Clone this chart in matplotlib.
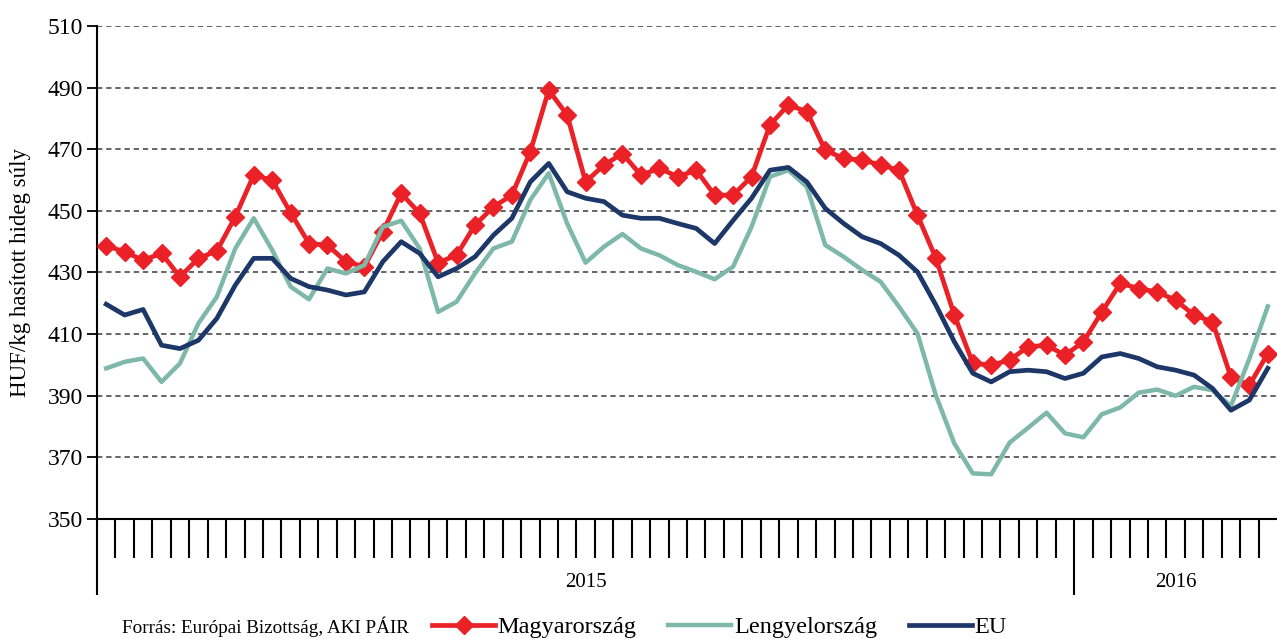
import matplotlib
matplotlib.use("Agg")
import matplotlib.pyplot as plt
import matplotlib.transforms as mtransforms
import numpy as np

plt.rcParams['font.family'] = ['Liberation Serif', 'DejaVu Serif']

# heti adatok: 2015 (53 het) + 2016 (11 het)
years = ["2015", "2016"]
weeks_per_year = [53, 11]

magyarorszag = [438.7, 436.7, 434.0, 436.2, 428.6, 434.6, 437.0, 448.1, 461.6, 460.0,
	449.4, 439.4, 438.9, 433.5, 431.9, 443.2, 455.7, 449.2, 433.2, 435.6,
	445.4, 451.3, 455.1, 469.2, 489.2, 481.1, 459.4, 464.9, 468.6, 461.6,
	463.8, 461.1, 463.2, 455.1, 455.1, 461.1, 477.9, 484.4, 482.2, 469.7,
	467.0, 466.5, 464.9, 463.2, 448.6, 434.6, 416.2, 400.6, 399.9, 401.6,
	405.9, 406.4, 403.2, 407.5, 417.2, 426.5, 424.8, 423.7, 421.0, 416.2,
	414.0, 396.1, 393.4, 403.7]

lengyelorszag = [398.9, 401.0, 402.1, 394.5, 400.5, 413.5, 422.1, 437.8, 447.6, 437.3,
	425.4, 421.3, 431.3, 429.7, 432.4, 444.8, 446.8, 437.8, 417.2, 420.5,
	429.7, 437.8, 440.0, 453.5, 462.2, 445.9, 433.2, 438.4, 442.5, 437.8,
	435.6, 432.4, 430.2, 427.8, 431.9, 444.8, 461.1, 463.2, 457.8, 438.9,
	435.1, 430.8, 427.0, 418.9, 410.2, 390.1, 374.5, 364.8, 364.5, 374.8,
	379.6, 384.5, 377.8, 376.5, 384.0, 386.2, 391.0, 392.0, 390.0, 392.9,
	391.8, 386.7, 402.0, 419.0]

eu = [419.7, 416.2, 418.0, 406.4, 405.3, 408.0, 415.1, 425.9, 434.6, 434.6,
	428.1, 425.4, 424.3, 422.7, 423.7, 433.5, 440.0, 436.2, 428.6, 431.3,
	435.1, 442.1, 447.6, 459.4, 465.4, 456.2, 454.1, 453.0, 448.6, 447.6,
	447.6, 445.9, 444.3, 439.4, 446.9, 454.1, 463.2, 464.1, 459.4, 450.8,
	445.9, 441.6, 439.4, 435.6, 430.2, 419.4, 407.5, 397.3, 394.5, 397.8,
	398.3, 397.8, 395.6, 397.3, 402.6, 403.7, 402.1, 399.4, 398.3, 396.7,
	392.4, 385.3, 388.6, 398.9]

n = len(eu)
x = np.arange(n)

fig = plt.figure(figsize=(12.77, 6.39), dpi=100)
ax = fig.add_axes([97/1277, 1-519/639, 1180/1277, 493/639])

l1, = ax.plot(x, magyarorszag, color="#ea2228", lw=3.4, marker="D", markersize=9.5, zorder=3)
l2, = ax.plot(x, lengyelorszag, color="#7db8a8", lw=3.2, zorder=4)
l3, = ax.plot(x, eu, color="#1c3768", lw=3.4, zorder=5)

ax.set_xlim(-0.5, n-0.5)
ax.set_ylim(350, 510)
ax.set_yticks(np.arange(350, 511, 20))
ax.yaxis.grid(True, linestyle=(0, (3.5, 2.5)), color="#3a3a3a", lw=1.1)
ax.set_axisbelow(True)

for s in ["top", "right"]:
	ax.spines[s].set_visible(False)
ax.spines["left"].set_linewidth(1.5)
ax.spines["bottom"].set_linewidth(1.5)

# hatarok: kis jel minden het kozott, hosszu jel az ev hataran
bounds = np.cumsum(weeks_per_year) - 0.5
ax.set_xticks([-0.5, bounds[0]])
ax.set_xticks([b - 0.5 for b in range(1, n) if b - 0.5 != bounds[0]], minor=True)
ax.set_xticklabels([])
ax.tick_params(axis="x", which="major", length=55, width=1.5, direction="out")
ax.tick_params(axis="x", which="minor", length=28, width=1.5, direction="out")
ax.tick_params(axis="y", length=7, width=1.3, direction="out", labelsize=17, pad=3)

trans = mtransforms.blended_transform_factory(ax.transData, ax.transAxes)
starts = np.concatenate([[-0.5], bounds[:-1]])
ends = np.concatenate([bounds[:-1], [n-0.5]])
for y, a, b in zip(years, starts, ends):
	ax.text((a+b)/2, -0.128, y, transform=trans, ha="center", va="center", fontsize=15)

ax.set_ylabel("HUF/kg hasított hideg súly", fontsize=16.5, labelpad=4)
ax.yaxis.set_label_coords(-0.056, 0.5)

fig.text(122/1277, 1-627/639, "Forrás: Európai Bizottság, AKI PÁIR", ha="left", va="center", fontsize=13.8)
fig.legend([l1, l2, l3], ["Magyarország", "Lengyelország", "EU"], loc="center left",
	bbox_to_anchor=(432/1277, 1-627/639), ncol=3, frameon=False, fontsize=17.5,
	handlelength=2.6, handletextpad=0.1, columnspacing=1.3, borderpad=0, borderaxespad=0)

plt.savefig("out.png", dpi=100)
